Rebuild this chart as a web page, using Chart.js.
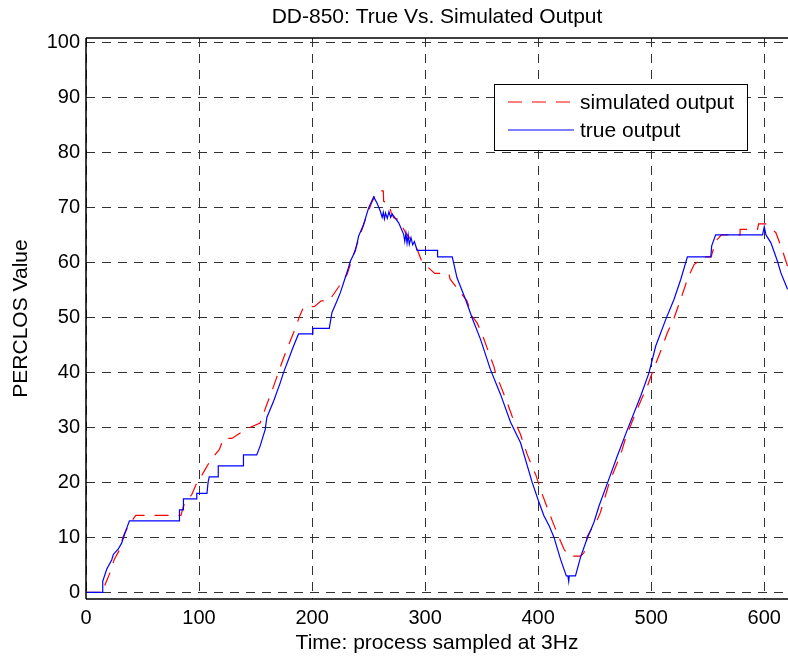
<!DOCTYPE html>
<html><head><meta charset="utf-8">
<script src="https://cdn.jsdelivr.net/npm/chart.js@4.4.0/dist/chart.umd.min.js"></script>
<style>html,body{margin:0;padding:0;background:#fff;overflow:hidden}canvas{display:block}</style>
</head><body>
<canvas id="c" width="788" height="657"></canvas>
<script>
const chartTitle = 'DD-850: True Vs. Simulated Output';
const xAxisTitle = 'Time: process sampled at 3Hz';
const yAxisTitle = 'PERCLOS Value';
const xTickValues = [0, 100, 200, 300, 400, 500, 600];
const yTickValues = [0, 10, 20, 30, 40, 50, 60, 70, 80, 90, 100];
const seriesLabels = ['simulated output', 'true output'];

const trueX = [0,14.5,14.8,18.3,22.7,24.2,28.6,31.6,34.5,36.6,38.4,82.7,82.7,86.2,86.2,98,98,107,108,109,117,117,139.3,139.3,151,154,158.5,160,166,171.8,174.8,179.2,183.6,188,200.7,200.7,215.2,217.6,222,225,228.8,231.7,233.8,238.3,241.2,245.6,250,254.5,257.4,260.4,262,263,264,265,266.5,268,269.5,271,272.2,276.6,281,282,283,284,285,286,287.5,289,290.5,292.9,311,311,324,328.2,335.7,341.6,349,357.8,366.7,375.5,384.4,394.7,400,405,410,414,419.8,424.9,426.3,427,427.5,433,437.6,443.5,449.3,453.8,461.5,470,478.9,490.7,498,504,512.8,520.2,526.1,532,552.7,553.5,557,598.5,600,601.5,605.8,611.7,614.7,620.6];
const trueY = [0,0,2,4.2,5.9,6.9,7.9,9,10.8,12,13,13,15,15,17,17,18,18,20,21,21,23,23,25,25,26.6,29.6,31.8,34.8,38.1,40,42.4,44.8,47,47,48,48,50.9,53,54.5,56.9,58.7,60.2,62.1,64.8,66.9,69.9,71.9,70.8,69.3,68.2,69.1,67.9,69,68,69.2,68.2,68.8,68.4,67.2,65.1,63.8,65.3,63.5,65,63.3,64.5,63.2,63.8,62.2,62.2,61,61,57.2,53.3,49.9,46,40.5,36,31,27.2,20,16.8,14,12,10,6,3,3,2,3,3,6.5,9.9,12.7,15.7,20,24.8,29.6,35.7,39.9,44.8,49.6,53.3,56.9,61,61,63,65,65,66.5,65,63.6,60.2,58.1,55.1];

const simX = [0,15,17,21.3,25,29,33,36,40.5,44,84,86.2,93.6,98,101,109.8,118,121.6,129,140.8,154,160,166,173.3,177.7,183.6,189.5,192.5,202.2,208,215,225,230.9,236.8,242.7,247.1,253,258,263,263.3,267.8,270,272.2,276.6,282.6,288.5,292.9,297,300,308.5,321,322,337,341.6,346,350.5,356.3,360.8,362.3,366.7,372.6,377,380,384.4,390.3,395.6,397.7,402.1,408,412.5,415.4,419.8,423,427.2,437.6,440.5,443.5,447.9,450.8,455,463,473,477.4,486.3,490.7,496.6,502.5,508.4,514.3,520.2,526.1,532,537.9,543.8,545,553,557.1,560,562,578.6,578.6,594,595,601.4,607,610.3,616.2,620.6];
const simY = [0,0,1.5,3.6,6,7.5,10.2,11.5,13,14,14,15.7,17.8,19.9,20.8,23.9,26,28,28,29.6,30.8,34.2,37.5,41.8,44.2,47.2,50.5,51.9,52,53,53,56,57.8,61.5,65.1,67.8,71,73,73,71.1,70.8,69,68.1,67.8,65.4,63.9,62.4,60.2,59.6,58,58,57,53,50.2,49,46.9,43.6,41.1,39.9,37.6,34.5,32,30.8,28.7,25.1,22.4,21.5,18.7,15.4,13,11.5,9.3,7.8,6.6,6.6,7.2,10.2,11.8,12.5,14.5,20,25.1,28.1,32.7,34.8,37.5,40.8,43.9,47.2,49.9,53.3,56.9,59.6,60.5,61,61,63.9,64.5,65,65,66,66,67,67,66,65.4,62.1,59.3];

const toPoints = (xs, ys) => xs.map((x, i) => ({x: x, y: ys[i]}));
const FONT = "'Liberation Sans', Arial, sans-serif";

const decor = {
  id: 'decor',
  afterDraw(chart) {
    const ctx = chart.ctx, a = chart.chartArea;
    ctx.save();
    ctx.strokeStyle = '#000';
    ctx.setLineDash([]);
    ctx.lineWidth = 1.5;
    ctx.beginPath();
    ctx.moveTo(a.left, a.top); ctx.lineTo(a.right, a.top);
    ctx.moveTo(a.left, a.top); ctx.lineTo(a.left, a.bottom);
    ctx.moveTo(a.left, a.bottom); ctx.lineTo(a.right, a.bottom);
    ctx.stroke();
    ctx.fillStyle = '#000';
    ctx.font = '21px ' + FONT;
    ctx.textAlign = 'center';
    ctx.textBaseline = 'middle';
    const cx = (a.left + a.right) / 2;
    ctx.fillText(chartTitle, cx, 17);
    ctx.fillText(xAxisTitle, cx, 643);
    ctx.save();
    ctx.translate(21, (a.top + a.bottom) / 2);
    ctx.rotate(-Math.PI / 2);
    ctx.fillText(yAxisTitle, 0, 0);
    ctx.restore();
    const lx = 494, ly = 84, lw = 253, lh = 66;
    ctx.fillStyle = '#fff';
    ctx.fillRect(lx, ly, lw, lh);
    ctx.lineWidth = 1;
    ctx.strokeStyle = '#000';
    ctx.strokeRect(lx + 0.5, ly + 0.5, lw, lh);
    const rows = [102, 130];
    chart.data.datasets.forEach((ds, i) => {
      ctx.save();
      ctx.strokeStyle = ds.borderColor;
      ctx.lineWidth = ds.borderWidth;
      ctx.setLineDash(ds.borderDash || []);
      ctx.beginPath();
      ctx.moveTo(508, rows[i]); ctx.lineTo(574, rows[i]);
      ctx.stroke();
      ctx.restore();
      ctx.fillStyle = '#000';
      ctx.textAlign = 'left';
      ctx.textBaseline = 'middle';
      ctx.fillText(ds.label, 580, rows[i] + 1);
    });
    ctx.restore();
  }
};

new Chart(document.getElementById('c'), {
  type: 'line',
  data: {
    datasets: [
      { label: seriesLabels[0], data: toPoints(simX, simY), borderColor: '#ff0000', borderWidth: 1.2,
        borderDash: [14, 10], pointRadius: 0, tension: 0, fill: false, order: 1 },
      { label: seriesLabels[1], data: toPoints(trueX, trueY), borderColor: '#0000ff', borderWidth: 1.2,
        pointRadius: 0, tension: 0, fill: false, order: 0 }
    ]
  },
  options: {
    responsive: false,
    animation: false,
    devicePixelRatio: 1,
    layout: { padding: { top: 38, right: 0, left: 0, bottom: 0 } },
    plugins: { legend: { display: false }, title: { display: false }, tooltip: { enabled: false } },
    scales: {
      x: {
        type: 'linear', min: 0, max: 621,
        afterBuildTicks: s => { s.ticks = xTickValues.map(v => ({value: v})); },
        afterFit: s => { s.height = 58; },
        ticks: { color: '#000', font: { family: FONT, size: 20 }, padding: 7, maxRotation: 0, autoSkip: false },
        grid: { color: '#333', lineWidth: 1, drawTicks: false },
        border: { display: false, dash: [9, 7] }
      },
      y: {
        type: 'linear', min: -1.2, max: 100.8,
        afterBuildTicks: s => { s.ticks = yTickValues.map(v => ({value: v})); },
        afterFit: s => { s.width = 86; },
        ticks: { color: '#000', font: { family: FONT, size: 20 }, padding: 6, autoSkip: false },
        grid: { color: '#333', lineWidth: 1, drawTicks: false },
        border: { display: false, dash: [9, 7] }
      }
    }
  },
  plugins: [decor]
});
</script>
</body></html>
